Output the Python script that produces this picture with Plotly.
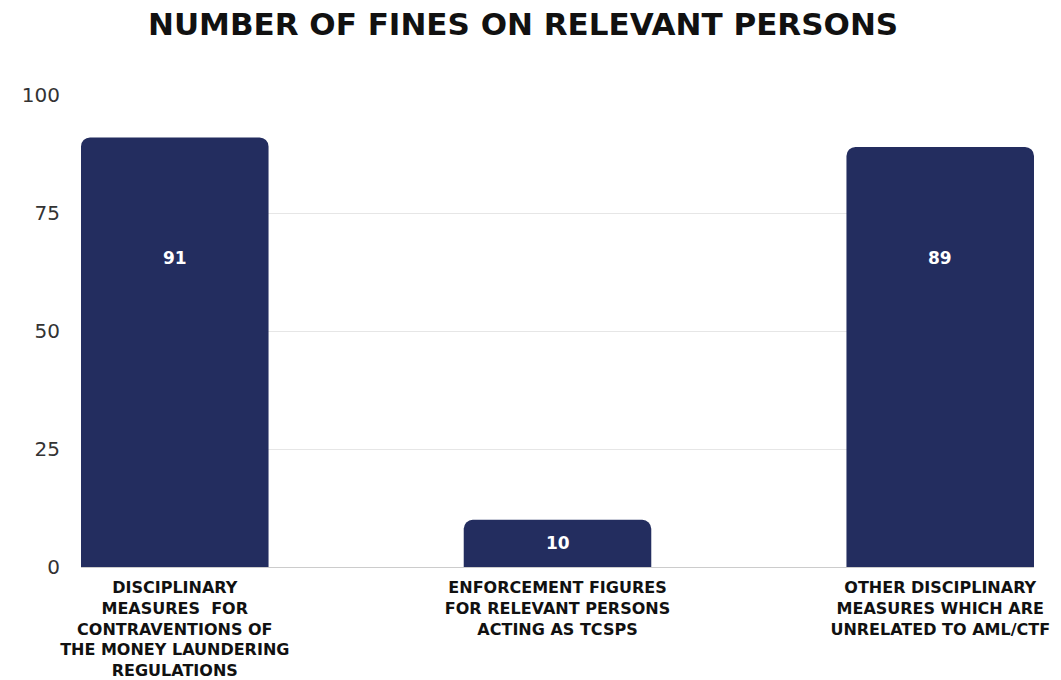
import plotly.graph_objects as go

# Fine counts per category
categories = [
    "DISCIPLINARY<br>MEASURES  FOR<br>CONTRAVENTIONS OF<br>THE MONEY LAUNDERING<br>REGULATIONS",
    "ENFORCEMENT FIGURES<br>FOR RELEVANT PERSONS<br>ACTING AS TCSPS",
    "OTHER DISCIPLINARY<br>MEASURES WHICH ARE<br>UNRELATED TO AML/CTF",
]
values = [91, 10, 89]
y_ticks = [0, 25, 50, 75, 100]

BAR_COLOR = "#232d5f"
BAR_WIDTH = 0.49
LABEL_CAP = 65.5  # tall bars carry their label at this height
xs = list(range(len(values)))

fig = go.Figure()
fig.add_trace(go.Bar(
    x=xs,
    y=values,
    width=BAR_WIDTH,
    marker=dict(color=BAR_COLOR, cornerradius=9, line=dict(width=0)),
    hoverinfo="y",
    showlegend=False,
))

# Value labels drawn inside each bar
for x, v in zip(xs, values):
    label_y = LABEL_CAP if v > LABEL_CAP else v / 2
    fig.add_annotation(
        x=x, y=label_y, text=str(v), showarrow=False,
        font=dict(family="DejaVu Sans", size=17, color="white", weight="bold"),
    )

fig.update_layout(
    width=1061,
    height=680,
    paper_bgcolor="white",
    plot_bgcolor="white",
    margin=dict(l=81, r=27, t=95, b=113, autoexpand=False),
    title=dict(
        text="<b>NUMBER OF FINES ON RELEVANT PERSONS</b>",
        x=0.493, xanchor="center", y=0.965, yanchor="middle",
        font=dict(family="DejaVu Sans", size=31, color="#111111"),
    ),
    xaxis=dict(
        range=[-BAR_WIDTH / 2, xs[-1] + BAR_WIDTH / 2],
        tickvals=xs,
        ticktext=[f"<b>{c}</b>" for c in categories],
        tickfont=dict(family="DejaVu Sans", size=16, color="#111111"),
        showgrid=False,
        zeroline=False,
        showline=False,
        ticks="",
        ticklabelstandoff=9,
        automargin=False,
    ),
    yaxis=dict(
        range=[0, 100],
        tickvals=y_ticks,
        tickfont=dict(family="DejaVu Sans", size=20, color="#333333"),
        showgrid=True,
        gridcolor="#e6e6e6",
        gridwidth=1,
        zeroline=True,
        zerolinecolor="#cccccc",
        zerolinewidth=1,
        showline=False,
        ticks="",
        ticklabelstandoff=20,
        automargin=False,
    ),
)

fig.write_html("out.html")
